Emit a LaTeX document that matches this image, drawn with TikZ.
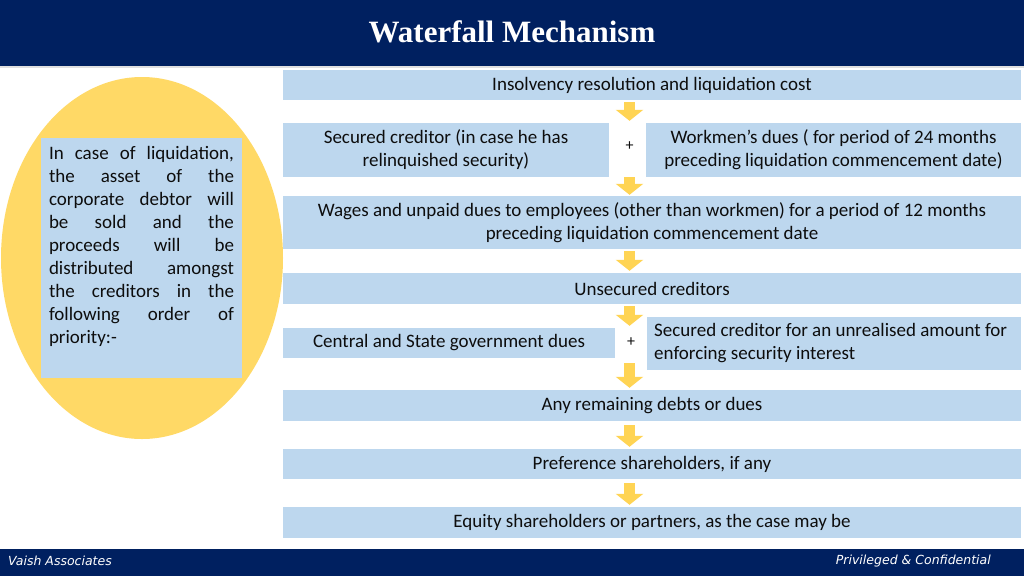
\documentclass[tikz,border=0pt]{standalone}
\usepackage{fontspec}
\setmainfont{Carlito}
\newfontfamily\titlefont{Liberation Serif}
\newfontfamily\footfont{DejaVu Sans}
\usetikzlibrary{arrows.meta,shapes.geometric}
\definecolor{navy}{RGB}{0,32,96}
\definecolor{boxblue}{RGB}{189,215,238}
\definecolor{ellyellow}{RGB}{255,217,102}
\definecolor{arrowc}{RGB}{255,212,84}
\definecolor{txt}{RGB}{13,13,13}
\tikzset{
  box/.style={fill=boxblue, draw=none, inner sep=0pt, text=txt, font=\fontsize{19}{23}\selectfont, align=center},
  flow/.style={draw=arrowc, line width=11pt, -{Triangle[width=27pt,length=11pt]}, shorten <=2pt, shorten >=2pt},
  plus/.style={text=txt, font=\fontsize{16}{16}\selectfont, inner sep=1pt},
}
\begin{document}
\begin{tikzpicture}[x=1pt,y=-1pt]
\useasboundingbox (0,0) rectangle (1024,576);
\fill[white] (0,0) rectangle (1024,576);
% header and footer
\fill[navy] (0,0) rectangle (1024,66);
\fill[black!12] (0,66) rectangle (1024,68);
\node[text=white, font=\titlefont\bfseries\fontsize{31}{33}\selectfont] (title) at (512,32) {Waterfall Mechanism};
\fill[navy] (0,549) rectangle (1024,576);
\node[anchor=west, text=white, font=\footfont\itshape\fontsize{12.5}{14}\selectfont, inner sep=0pt] (fl) at (8,561) {Vaish Associates};
\node[anchor=east, text=white, font=\footfont\itshape\fontsize{12.5}{14}\selectfont, inner sep=0pt] (fr) at (991,561) {Privileged \& Confidential};
% left ellipse
\node[ellipse, fill=ellyellow, minimum width=282pt, minimum height=362pt, inner sep=0pt] (ell) at (142,258) {};
\node[fill=boxblue, minimum width=201pt, minimum height=240pt, inner sep=0pt] (lbox) at (141.5,258) {};
\node[anchor=north, text width=185pt, align=justify, inner sep=0pt, text=txt, font=\fontsize{19}{23}\selectfont] (ltext) at (141.5,146)
 {In case of liquidation,\linebreak the asset of the\linebreak corporate debtor will\linebreak be sold and the\linebreak proceeds will be\linebreak distributed amongst\linebreak the creditors in the\linebreak following order of\linebreak priority:-};
% boxes
\node[box, minimum width=738pt, minimum height=30pt] (b1) at (652,85) {Insolvency resolution and liquidation cost};
\node[box, minimum width=326pt, minimum height=54pt] (b2L) at (446,150) {Secured creditor (in case he has\\relinquished security)};
\node[box, minimum width=375pt, minimum height=54pt] (b2R) at (833.5,150) {Workmen’s dues ( for period of 24 months\\preceding liquidation commencement date)};
\node[plus] (p1) at (629.5,146) {+};
\node[box, minimum width=738pt, minimum height=53pt] (b3) at (652,222.5) {Wages and unpaid dues to employees (other than workmen) for a period of 12 months\\preceding liquidation commencement date};
\node[box, minimum width=738pt, minimum height=31pt] (b4) at (652,288.5) {Unsecured creditors};
\node[box, minimum width=332pt, minimum height=30pt] (b5L) at (449,343) {Central and State government dues};
\node[box, minimum width=374pt, minimum height=53pt] (b5R) at (834,343.5) {};
\node[box, fill=none, anchor=west, align=left] (b5Rt) at (654,343.5) {Secured creditor for an unrealised amount for\\enforcing security interest};
\node[plus] (p2) at (631,342) {+};
\node[box, minimum width=738pt, minimum height=31pt] (b6) at (652,405.5) {Any remaining debts or dues};
\node[box, minimum width=738pt, minimum height=30pt] (b7) at (652,464) {Preference shareholders, if any};
\node[box, minimum width=738pt, minimum height=31pt] (b8) at (652,522.5) {Equity shareholders or partners, as the case may be};
% arrows
\coordinate (ax) at (629.5,0);
\draw[flow] (b1.south -| ax) -- (b2L.north -| ax);
\draw[flow, shorten <=0pt, shorten >=1pt] (b2L.south -| ax) -- (b3.north -| ax);
\draw[flow] (b3.south -| ax) -- (b4.north -| ax);
\draw[flow] (b4.south -| ax) -- (b5L.north -| ax);
\draw[flow, shorten <=5pt] (b5L.south -| ax) -- (b6.north -| ax);
\draw[flow, shorten <=4pt] (b6.south -| ax) -- (b7.north -| ax);
\draw[flow, shorten <=4pt] (b7.south -| ax) -- (b8.north -| ax);
\end{tikzpicture}
\end{document}
